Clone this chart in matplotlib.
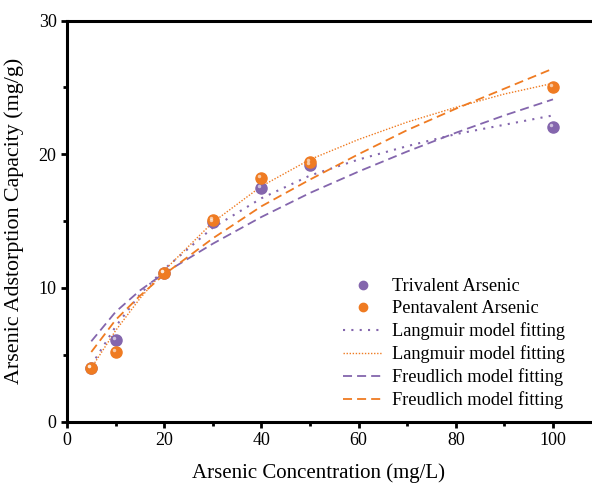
import numpy as np
import matplotlib
matplotlib.use("Agg")
import matplotlib.pyplot as plt
from matplotlib.lines import Line2D
from matplotlib.transforms import ScaledTranslation

# =========================
# DATA
# =========================
conc = [5, 10, 20, 30, 40, 50, 100]
q_tri = [4.0, 6.1, 11.1, 14.9, 17.5, 19.2, 22.0]
q_penta = [4.0, 5.2, 11.1, 15.1, 18.2, 19.4, 25.0]

fit_x = [5, 10, 15, 20, 30, 40, 50, 60, 70, 80, 90, 100]
lang_tri = [4.2, 7.1, 9.5, 11.4, 14.5, 16.7, 18.4, 19.6, 20.6, 21.5, 22.2, 22.9]
lang_penta = [4.0, 6.8, 9.2, 11.3, 14.9, 17.6, 19.6, 21.1, 22.4, 23.5, 24.5, 25.3]
freu_tri = [6.0, 8.2, 9.8, 11.1, 13.3, 15.3, 17.1, 18.7, 20.2, 21.6, 22.9, 24.1]
freu_penta = [5.2, 7.6, 9.4, 11.0, 13.7, 16.1, 18.1, 20.0, 21.8, 23.4, 24.9, 26.4]

labels = ["Trivalent Arsenic", "Pentavalent Arsenic",
          "Langmuir model fitting", "Langmuir model fitting",
          "Freudlich model fitting", "Freudlich model fitting"]

# =========================
# STYLE
# =========================
PURPLE = "#8466ad"
ORANGE = "#ef7b22"
plt.rcParams.update({
    "font.family": ["Liberation Serif", "DejaVu Serif"],
    "font.size": 12,
})

fig = plt.figure(figsize=(5.92, 4.83), dpi=100)
ax = fig.add_axes([67 / 592, 61.5 / 483, 534.6 / 592, 401 / 483])

# fitted curves
ax.plot(fit_x, lang_tri, color=PURPLE, lw=1.5, ls=(0, (1, 3)))
ax.plot(fit_x, lang_penta, color=ORANGE, lw=1.0, ls=(0, (1, 1.2)))
ax.plot(fit_x, freu_tri, color=PURPLE, lw=1.3, ls=(0, (5, 2.8)))
ax.plot(fit_x, freu_penta, color=ORANGE, lw=1.3, ls=(0, (5, 2.8)))

# "sphere" markers: body + small highlight up-left
hl = ax.transData + ScaledTranslation(-1.5 / 72, 1.5 / 72, fig.dpi_scale_trans)
for q, c in [(q_tri, PURPLE), (q_penta, ORANGE)]:
    ax.plot(conc, q, "o", ms=8, color=c, mec=c, zorder=5)
    ax.plot(conc, q, "o", ms=2.5, color="white", mec="none", alpha=0.6,
            transform=hl, zorder=6)

ax.set_xlim(0, 110)
ax.set_ylim(0, 30)
ax.set_xticks([0, 20, 40, 60, 80, 100])
ax.set_xticks([10, 30, 50, 70, 90], minor=True)
ax.set_yticks([0, 10, 20, 30])
ax.set_yticks([5, 15, 25], minor=True)

for s in ["left", "bottom", "top"]:
    ax.spines[s].set_linewidth(2.2)
ax.spines["right"].set_visible(False)
ax.tick_params(which="major", direction="out", length=4.5, width=2, labelsize=13, pad=3)
ax.tick_params(which="minor", direction="out", length=3, width=2)

ax.set_xlabel("Arsenic Concentration (mg/L)", fontsize=15)
ax.set_ylabel("Arsenic Adstorption Capacity (mg/g)", fontsize=15.8)
ax.xaxis.set_label_coords((318 - 67) / 534.6, -0.105)
ax.yaxis.set_label_coords(-0.08, 0.5)

handles = [
    Line2D([0], [0], marker="o", ls="None", color=PURPLE, ms=6),
    Line2D([0], [0], marker="o", ls="None", color=ORANGE, ms=6),
    Line2D([0], [0], color=PURPLE, lw=1.5, ls=(0, (1, 3))),
    Line2D([0], [0], color=ORANGE, lw=1.0, ls=(0, (1, 1.2))),
    Line2D([0], [0], color=PURPLE, lw=1.3, ls=(0, (5, 2.8))),
    Line2D([0], [0], color=ORANGE, lw=1.3, ls=(0, (5, 2.8))),
]
ax.legend(handles, labels, loc="upper left", frameon=False, fontsize=13.2,
          handlelength=2.15, handletextpad=0.55, labelspacing=0.28,
          borderpad=0, borderaxespad=0,
          bbox_to_anchor=(343 / 592, 1 - 278 / 483),
          bbox_transform=fig.transFigure)

fig.savefig("out.png", dpi=100)
